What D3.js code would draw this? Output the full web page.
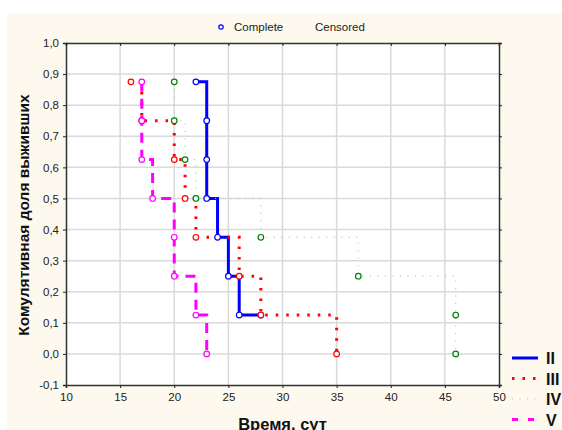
<!DOCTYPE html>
<html>
<head>
<meta charset="utf-8">
<script src="https://cdn.jsdelivr.net/npm/d3@7/dist/d3.min.js"></script>
<style>
body{margin:0;background:#fff;}
svg{display:block;font-family:Arial,"Liberation Sans",sans-serif;}
</style>
</head>
<body>
<svg id="chart" width="562" height="430"></svg>
<script>
// data: time (days) and cumulative survival
var timeII  = [22, 23, 23, 23, 24, 25, 26, 28];
var survII  = [0.875, 0.75, 0.625, 0.5, 0.375, 0.25, 0.125, 0.125];
var timeIII = [16, 17, 20, 21, 22, 26, 28, 35];
var survIII = [0.875, 0.75, 0.625, 0.5, 0.375, 0.25, 0.125, 0];
var timeIV  = [20, 20, 21, 22, 28, 37, 46, 46];
var survIV  = [0.875, 0.75, 0.625, 0.5, 0.375, 0.25, 0.125, 0];
var timeV   = [17, 17, 17, 18, 20, 20, 22, 23];
var survV   = [0.875, 0.75, 0.625, 0.5, 0.375, 0.25, 0.125, 0];
var groupNames = ["II", "III", "IV", "V"];
var xTicks = [10, 15, 20, 25, 30, 35, 40, 45, 50];
var yTicks = [-0.1, 0, 0.1, 0.2, 0.3, 0.4, 0.5, 0.6, 0.7, 0.8, 0.9, 1.0];

var margin = {left:66, top:43, right:499, bottom:385};
var svg = d3.select("#chart");

svg.append("rect")
    .attr("x",7).attr("y",13).attr("width",555).attr("height",417)
    .style("fill","#fdf9ee");

var x = d3.scaleLinear().domain([10,50]).range([margin.left, margin.right]);
var y = d3.scaleLinear().domain([-0.1,1.0]).range([margin.bottom, margin.top]);

svg.append("rect")
    .attr("x",margin.left).attr("y",margin.top)
    .attr("width",margin.right-margin.left).attr("height",margin.bottom-margin.top)
    .style("fill","#fff");

// grid
var g_grid = svg.append("g");
g_grid.selectAll(".gx").data(xTicks.slice(1,-1)).enter().append("line")
    .attr("x1",d=>x(d)).attr("x2",d=>x(d))
    .attr("y1",margin.top).attr("y2",margin.bottom)
    .style("stroke","#dadada").style("stroke-width",1.5);
g_grid.selectAll(".gy").data(yTicks.slice(1,-1)).enter().append("line")
    .attr("y1",d=>y(d)).attr("y2",d=>y(d))
    .attr("x1",margin.left).attr("x2",margin.right)
    .style("stroke","#dadada").style("stroke-width",1.5);

var fmt = function(d){ return d3.format(".1f")(d).replace(".",",").replace("−","-"); };

var xAxis = svg.append("g")
    .attr("transform","translate(0,"+margin.bottom+")")
    .call(d3.axisBottom(x).tickValues(xTicks).tickSize(3).tickPadding(5).tickFormat(d3.format("d")));
var yAxis = svg.append("g")
    .attr("transform","translate("+margin.left+",0)")
    .call(d3.axisLeft(y).tickValues(yTicks).tickSize(3).tickPadding(4).tickFormat(fmt));
var topAxis = svg.append("g")
    .attr("transform","translate(0,"+margin.top+")")
    .call(d3.axisBottom(x).tickValues(xTicks).tickSize(3).tickFormat(""));
var rightAxis = svg.append("g")
    .attr("transform","translate("+margin.right+",0)")
    .call(d3.axisRight(y).tickValues(yTicks).tickSize(3).tickFormat(""));

[xAxis,yAxis,topAxis,rightAxis].forEach(function(a){
    a.select(".domain").style("stroke","#333").style("stroke-width",1.5);
    a.selectAll(".tick line").style("stroke","#222");
    a.selectAll("text").style("font-size","11.5px").style("fill","#222")
        .style("font-family","Arial,'Liberation Sans',sans-serif");
});

// series
var series = [
    {name:groupNames[0], t:timeII,  s:survII,  color:"#0000ff", circle:"#0000ff", width:3,   dash:null},
    {name:groupNames[1], t:timeIII, s:survIII, color:"#ff0000", circle:"#ff0000", width:3,   dash:"2.5,8"},
    {name:groupNames[2], t:timeIV,  s:survIV,  color:"#9fd39f", circle:"#008000", width:1.2, dash:"1,6.5"},
    {name:groupNames[3], t:timeV,   s:survV,   color:"#ff00ff", circle:"#ff00ff", width:3,   dash:"10,7"}
];

var line = d3.line()
    .x(d=>x(d[0])).y(d=>y(d[1]))
    .curve(d3.curveStepAfter);

series.forEach(function(sr){
    var pts = sr.t.map(function(t,i){ return [t, sr.s[i]]; });
    var path = svg.append("path")
        .attr("d", line(pts))
        .style("fill","none")
        .style("stroke",sr.color)
        .style("stroke-width",sr.width);
    if(sr.dash) path.style("stroke-dasharray",sr.dash);
});
series.forEach(function(sr){
    var pts = sr.t.map(function(t,i){ return [t, sr.s[i]]; });
    svg.append("g").selectAll("circle").data(pts).enter().append("circle")
        .attr("cx",d=>x(d[0])).attr("cy",d=>y(d[1])).attr("r",2.8)
        .style("fill","#fff").style("stroke",sr.circle).style("stroke-width",1.2);
});

// top legend
svg.append("circle").attr("cx",221).attr("cy",27).attr("r",2.2)
    .style("fill","none").style("stroke","#0000ff").style("stroke-width",1.2);
svg.append("text").text("Complete").attr("x",234).attr("y",31)
    .style("font-size","11.5px").style("fill","#222");
svg.append("text").text("Censored").attr("x",315).attr("y",31)
    .style("font-size","11.5px").style("fill","#222");

// right legend
var g_leg = svg.append("g");
series.forEach(function(sr,i){
    var ly = 358 + i*20.5;
    var l = g_leg.append("line")
        .attr("x1",512).attr("x2",538).attr("y1",ly).attr("y2",ly)
        .style("stroke",sr.color).style("stroke-width",sr.width);
    if(sr.dash) l.style("stroke-dasharray", i==3 ? "6,10" : sr.dash);
    g_leg.append("text").text(sr.name).attr("x",546).attr("y",ly+6)
        .style("font-size","16px").style("font-weight","bold").style("fill","#111");
});

// axis titles
svg.append("text").text("Время, сут")
    .attr("x",(margin.left+margin.right)/2).attr("y",430)
    .attr("text-anchor","middle")
    .style("font-size","16.5px").style("font-weight","bold").style("fill","#111");
svg.append("text").text("Комулятивная доля выживших")
    .attr("transform","translate(29,"+215+") rotate(-90)")
    .attr("text-anchor","middle")
    .style("font-size","15.5px").style("font-weight","bold").style("fill","#111");
</script>
</body>
</html>
